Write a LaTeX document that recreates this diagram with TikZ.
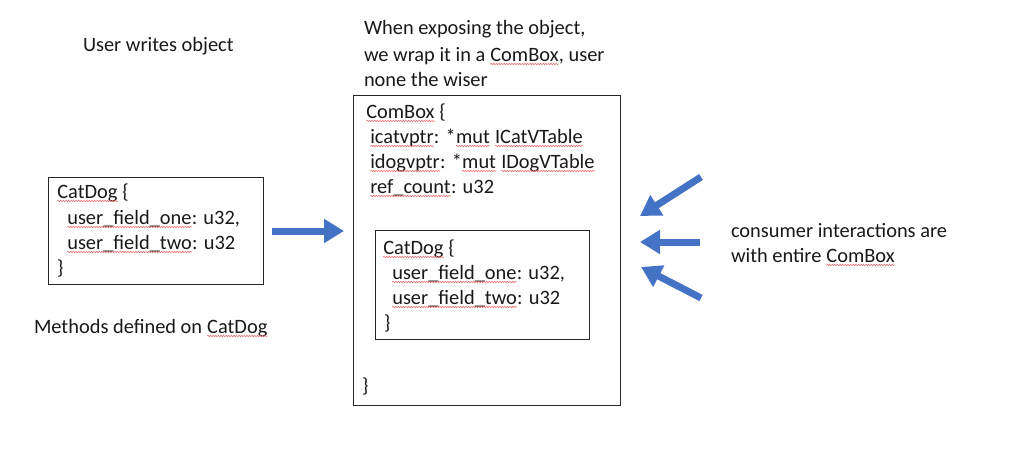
\documentclass[tikz,border=0pt]{standalone}
\usepackage{fontspec}
\setmainfont{Carlito}
\usetikzlibrary{arrows.meta,decorations.pathmorphing}
\definecolor{arrowblue}{HTML}{4472C4}
\definecolor{boxline}{HTML}{262626}
\definecolor{squigred}{HTML}{E8706F}
\tikzset{
  txt/.style={anchor=base west, inner sep=0pt, outer sep=0pt, font=\fontsize{20.4}{24}\selectfont, text=black!90},
  box/.style={draw=boxline, line width=0.9pt, fill=none},
  bigarrow/.style={draw=arrowblue, line width=7pt, -{Triangle[length=20pt,width=23pt]}},
  squig/.style={draw=squigred, line width=0.6pt, decorate, decoration={snake, amplitude=0.7pt, segment length=2.6pt}},
}
\newcommand\sqw[1]{\begin{tikzpicture}[baseline=(sqword.base)]%
\node[anchor=base, inner sep=0pt, outer sep=0pt] (sqword) {#1};%
\draw[squig] ([yshift=-3pt]sqword.base west) -- ([yshift=-3pt]sqword.base east);%
\end{tikzpicture}}
\begin{document}
\begin{tikzpicture}[x=1pt,y=-1pt]
\useasboundingbox[fill=white] (0,0) rectangle (1024,460);
% boxes
\draw[box] (48,177) rectangle (263,284);
\draw[box] (353,95) rectangle (620,405);
\draw[box] (375,230) rectangle (589,339);
% top labels
\node[txt] (t1) at (83,52) {User writes object};
\node[txt] (w1) at (364,35) {When exposing the object,};
\node[txt] (w2) at (364,61) {we wrap it in a \sqw{ComBox}, user};
\node[txt] (w3) at (364,86) {none the wiser};
% left box
\node[txt] (l1) at (57,198) {\sqw{CatDog} \{};
\node[txt] (l2) at (67,224) {\sqw{user\_field\_one}: u32,};
\node[txt] (l3) at (67,249) {\sqw{user\_field\_two}: u32};
\node[txt] (l4) at (57,274) {\}};
\node[txt] (m1) at (34,333) {Methods defined on \sqw{CatDog}};
% big box
\node[txt] (c1) at (366,118) {\sqw{ComBox} \{};
\node[txt] (c2) at (370,143) {\sqw{icatvptr}: *\sqw{mut} \sqw{ICatVTable}};
\node[txt] (c3) at (370,168) {\sqw{idogvptr}: *\sqw{mut} \sqw{IDogVTable}};
\node[txt] (c4) at (370,193) {\sqw{ref\_count}: u32};
\node[txt] (c5) at (362,392) {\}};
% inner box
\node[txt] (i1) at (383,254) {\sqw{CatDog} \{};
\node[txt] (i2) at (392,279) {\sqw{user\_field\_one}: u32,};
\node[txt] (i3) at (392,304) {\sqw{user\_field\_two}: u32};
\node[txt] (i4) at (384,329) {\}};
% right text
\node[txt] (r1) at (731,237) {consumer interactions are};
\node[txt] (r2) at (731,262) {with entire \sqw{ComBox}};
% arrows
\coordinate (a0s) at (272,231); \coordinate (a0e) at (344,231);
\coordinate (a1s) at (701,177); \coordinate (a1e) at (640,216);
\coordinate (a2s) at (700,242); \coordinate (a2e) at (640,242);
\coordinate (a3s) at (701,298); \coordinate (a3e) at (641,267);
\draw[bigarrow] (a0s) -- (a0e);
\draw[bigarrow] (a1s) -- (a1e);
\draw[bigarrow] (a2s) -- (a2e);
\draw[bigarrow] (a3s) -- (a3e);
\end{tikzpicture}
\end{document}
